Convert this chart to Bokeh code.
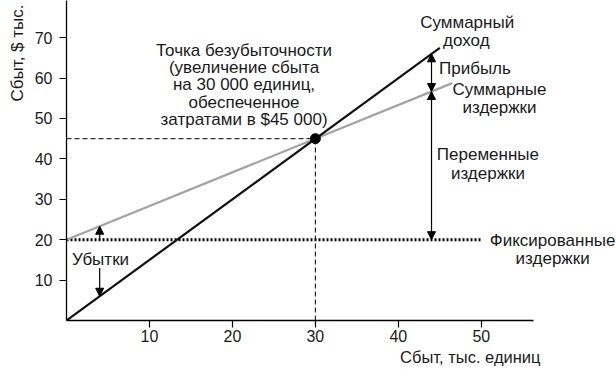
import numpy as np
from bokeh.plotting import figure
from bokeh.models import Range1d, FixedTicker, Label, Arrow, NormalHead, Title
from bokeh.embed import file_html
from bokeh.resources import INLINE

# ---- data (thousands of units / thousands of $) ----
x_ticks = [10, 20, 30, 40, 50]
y_ticks = [10, 20, 30, 40, 50, 60, 70]

revenue_x = [0, 45]
revenue_y = [0, 67.5]
cost_x = [0, 46.5]
cost_y = [20, 58.75]
fixed_x = [0, 50]
fixed_y = [20, 20]
breakeven_x = [30]
breakeven_y = [45]

profit_arrow_x = 44
loss_arrow_x = 4
loss_label_gap = [13]  # start of lower loss arrow

# text labels: (text, x, y, align)
texts = [
    ("Точка безубыточности", 21.4, 66.9, "center"),
    ("(увеличение сбыта", 21.4, 62.6, "center"),
    ("на 30 000 единиц,", 21.4, 58.3, "center"),
    ("обеспеченное", 21.4, 53.9, "center"),
    ("затратами в $45 000)", 21.4, 49.8, "center"),
    ("Суммарный", 48.3, 73.7, "center"),
    ("доход", 48.2, 69.3, "center"),
    ("Прибыль", 44.9, 62.4, "left"),
    ("Суммарные", 52.2, 57.1, "center"),
    ("издержки", 52.2, 52.8, "center"),
    ("Переменные", 50.8, 41.0, "center"),
    ("издержки", 50.8, 36.4, "center"),
    ("Фиксированные", 58.6, 19.9, "center"),
    ("издержки", 58.6, 15.4, "center"),
    ("Убытки", 4.1, 15.1, "center"),
]

FONT = "Liberation Sans"
FS = "17px"
TXT = "#1a1a1a"

p = figure(width=616, height=374, output_backend="svg", toolbar_location=None,
           x_range=Range1d(0, 66.3), y_range=Range1d(0, 79.2),
           min_border_left=66, min_border_right=0, min_border_top=0,
           min_border_bottom=54)
p.outline_line_color = None
p.grid.visible = False
p.background_fill_color = "white"

for ax in (p.xaxis[0], p.yaxis[0]):
    ax.axis_line_color = "black"
    ax.axis_line_width = 1.3
    ax.major_tick_line_color = "black"
    ax.major_tick_line_width = 1.2
    ax.major_tick_out = 7
    ax.major_tick_in = 0
    ax.minor_tick_line_color = None
    ax.major_label_text_font = FONT
    ax.major_label_text_font_size = "16px"
    ax.major_label_text_color = TXT
p.xaxis[0].ticker = FixedTicker(ticks=x_ticks)
p.yaxis[0].ticker = FixedTicker(ticks=y_ticks)
p.xaxis[0].bounds = (0, 56.3)
p.xaxis[0].major_label_standoff = 2
p.yaxis[0].major_label_standoff = 7

# dashed guides to break-even point
p.line([0, breakeven_x[0]], [breakeven_y[0], breakeven_y[0]], line_color="black",
       line_width=1, line_dash="5 3")
p.line([breakeven_x[0], breakeven_x[0]], [0, breakeven_y[0]], line_color="black",
       line_width=1, line_dash="5 3")

# fixed costs (dotted)
p.line(fixed_x, fixed_y, line_color="black", line_width=3, line_dash="2 2")
# total costs (gray)
p.line(cost_x, cost_y, line_color="#a3a3a3", line_width=2.2)
# revenue (black)
p.line(revenue_x, revenue_y, line_color="#111111", line_width=2.2)
# break-even point
p.scatter(breakeven_x, breakeven_y, size=10, color="black")

def rev(x):
    return float(np.interp(x, revenue_x, revenue_y))

def cost(x):
    return float(np.interp(x, cost_x, cost_y))

def head():
    return NormalHead(size=8, fill_color="black", line_color="black", line_width=1)

# profit arrow
p.add_layout(Arrow(start=head(), end=head(), x_start=profit_arrow_x, y_start=rev(profit_arrow_x),
                   x_end=profit_arrow_x, y_end=cost(profit_arrow_x), line_width=1.2))
# variable cost arrow
p.add_layout(Arrow(start=head(), end=head(), x_start=profit_arrow_x, y_start=cost(profit_arrow_x),
                   x_end=profit_arrow_x, y_end=fixed_y[0], line_width=1.2))
# loss arrows
p.add_layout(Arrow(end=head(), x_start=loss_arrow_x, y_start=fixed_y[0],
                   x_end=loss_arrow_x, y_end=cost(loss_arrow_x), line_width=1.2))
p.add_layout(Arrow(end=head(), x_start=loss_arrow_x, y_start=loss_label_gap[0],
                   x_end=loss_arrow_x, y_end=rev(loss_arrow_x), line_width=1.2))

for t, x, y, a in texts:
    p.add_layout(Label(x=x, y=y, text=t, text_align=a, text_baseline="middle",
                       text_font=FONT, text_font_size=FS, text_color=TXT))

# axis titles
p.add_layout(Title(text="Сбыт, $ тыс.", align="right", offset=4,
                   text_font=FONT, text_font_size="17px", text_font_style="normal",
                   text_color=TXT, standoff=9), "left")
p.add_layout(Title(text="Сбыт, тыс. единиц", align="right", offset=76,
                   text_font=FONT, text_font_size="16.5px", text_font_style="normal",
                   text_color=TXT, standoff=2), "below")

open("out.html", "w").write(file_html(p, INLINE))
